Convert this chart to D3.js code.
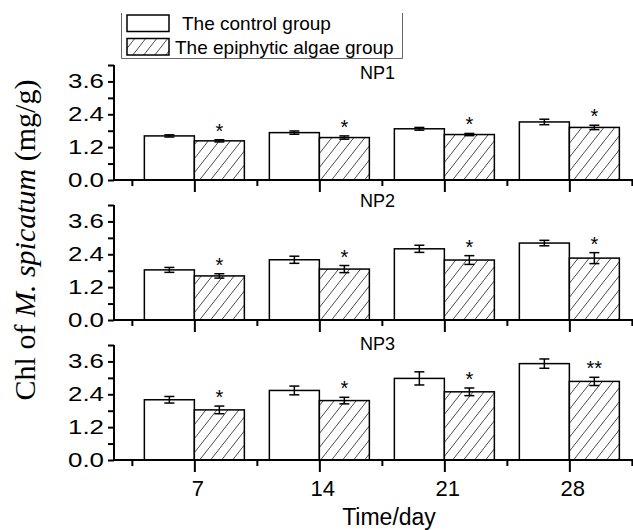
<!DOCTYPE html>
<html><head><meta charset="utf-8">
<script src="https://cdn.jsdelivr.net/npm/d3@7"></script>
<style>html,body{margin:0;padding:0;background:#fff;overflow:hidden}</style>
</head><body>
<script>
const days = [7, 14, 21, 28];
const panelNames = ["NP1", "NP2", "NP3"];
const controlNP1 = [1.61, 1.73, 1.87, 2.12];
const epiNP1 = [1.43, 1.55, 1.66, 1.92];
const controlErrNP1 = [0.04, 0.06, 0.05, 0.10];
const epiErrNP1 = [0.04, 0.06, 0.04, 0.08];
const controlNP2 = [1.83, 2.20, 2.60, 2.81];
const epiNP2 = [1.61, 1.86, 2.19, 2.26];
const controlErrNP2 = [0.09, 0.13, 0.13, 0.10];
const epiErrNP2 = [0.08, 0.13, 0.16, 0.20];
const controlNP3 = [2.20, 2.54, 2.98, 3.52];
const epiNP3 = [1.83, 2.17, 2.49, 2.87];
const controlErrNP3 = [0.12, 0.16, 0.24, 0.17];
const epiErrNP3 = [0.14, 0.12, 0.14, 0.15];
const sigNP1 = ["*", "*", "*", "*"];
const sigNP2 = ["*", "*", "*", "*"];
const sigNP3 = ["*", "*", "*", "**"];
const yTicks = [0.0, 1.2, 2.4, 3.6];
const legendLabels = ["The control group", "The epiphytic algae group"];

const panels = [
  {name: panelNames[0], c: controlNP1, e: epiNP1, ce: controlErrNP1, ee: epiErrNP1, sig: sigNP1},
  {name: panelNames[1], c: controlNP2, e: epiNP2, ce: controlErrNP2, ee: epiErrNP2, sig: sigNP2},
  {name: panelNames[2], c: controlNP3, e: epiNP3, ce: controlErrNP3, ee: epiErrNP3, sig: sigNP3}
];

const W = 633, H = 530;
const svg = d3.select("body").append("svg").attr("width", W).attr("height", H)
  .style("font-family", "Arial, 'Liberation Sans', sans-serif");

const defs = svg.append("defs");
const pat = defs.append("pattern").attr("id", "hatch").attr("patternUnits", "userSpaceOnUse")
  .attr("width", 11).attr("height", 14);
pat.append("rect").attr("width", 11).attr("height", 14).attr("fill", "#fff");
pat.append("line").attr("x1", 0).attr("y1", 14).attr("x2", 11).attr("y2", 0)
  .attr("stroke", "#333").attr("stroke-width", 0.9);

const x = d3.scaleLinear().domain([2.5, 32]).range([114, 114 + 29.5 * (125 / 7)]);
const barW = 50;
const zeroYs = [180, 320, 460];
const nameBaselines = [79, 207, 350];

panels.forEach((p, i) => {
  const y = d3.scaleLinear().domain([0, 4.2]).range([zeroYs[i], zeroYs[i] - 115]);
  const g = svg.append("g");

  days.forEach((d, j) => {
    const cx = x(d);
    g.append("rect").attr("x", cx - barW).attr("y", y(p.c[j])).attr("width", barW)
      .attr("height", y(0) - y(p.c[j])).attr("fill", "#fff").attr("stroke", "#000").attr("stroke-width", 1.5);
    g.append("rect").attr("x", cx).attr("y", y(p.e[j])).attr("width", barW)
      .attr("height", y(0) - y(p.e[j])).attr("fill", "url(#hatch)").attr("stroke", "#000").attr("stroke-width", 1.5);
    [[cx - barW / 2, p.c[j], p.ce[j]], [cx + barW / 2, p.e[j], p.ee[j]]].forEach(([ex, v, er]) => {
      const eg = g.append("g").attr("stroke", "#000").attr("stroke-width", 1.5);
      eg.append("line").attr("x1", ex).attr("x2", ex).attr("y1", y(v - er)).attr("y2", y(v + er));
      eg.append("line").attr("x1", ex - 5).attr("x2", ex + 5).attr("y1", y(v - er)).attr("y2", y(v - er));
      eg.append("line").attr("x1", ex - 5).attr("x2", ex + 5).attr("y1", y(v + er)).attr("y2", y(v + er));
    });
    g.append("text").attr("x", cx + barW / 2).attr("y", y(p.e[j] + p.ee[j]) - 2)
      .attr("text-anchor", "middle").attr("font-size", 20).text(p.sig[j]);
  });

  const yAxis = d3.axisLeft(y).tickValues(d3.range(0, 4.21, 0.6)).tickSize(6)
    .tickFormat(v => yTicks.some(t => Math.abs(t - v) < 1e-6) ? d3.format(".1f")(v) : "");
  const ya = g.append("g").attr("transform", `translate(${x(2.5)},0)`).call(yAxis);
  ya.select(".domain").remove();
  ya.selectAll(".tick line").attr("stroke-width", 2);
  ya.selectAll("text").attr("font-size", 20).attr("font-family", "Arial, 'Liberation Sans', sans-serif")
    .attr("fill", "#000").attr("x", -10)
    .each(function () { if (this.textContent) d3.select(this).attr("textLength", 36).attr("lengthAdjust", "spacingAndGlyphs"); });
  g.append("line").attr("x1", x(2.5)).attr("x2", x(2.5)).attr("y1", y(0) + 1).attr("y2", y(4.2))
    .attr("stroke", "#000").attr("stroke-width", 2);

  const xa = g.append("g").attr("transform", `translate(0,${y(0)})`);
  xa.append("line").attr("x1", x(2.5)).attr("x2", W).attr("y1", 0).attr("y2", 0)
    .attr("stroke", "#000").attr("stroke-width", 2);
  const majorAxis = d3.axisBottom(x).tickValues(days).tickSize(12).tickSizeOuter(0)
    .tickFormat(i === 2 ? d3.format("d") : () => "");
  const ma = xa.append("g").call(majorAxis);
  ma.select(".domain").remove();
  ma.selectAll(".tick line").attr("stroke-width", 2);
  ma.selectAll("text").attr("font-size", 22).attr("font-family", "Arial, 'Liberation Sans', sans-serif")
    .attr("fill", "#000").attr("dx", 3).attr("y", 20);
  const minorAxis = d3.axisBottom(x).tickValues([3.5, 10.5, 17.5, 24.5, 31.5]).tickSize(6).tickFormat(() => "");
  const mi = xa.append("g").call(minorAxis);
  mi.select(".domain").remove();
  mi.selectAll(".tick line").attr("stroke-width", 2);

  svg.append("text").attr("x", 377.5).attr("y", nameBaselines[i]).attr("text-anchor", "middle")
    .attr("font-size", 18).text(p.name);
});

svg.append("text").attr("x", 389).attr("y", 525).attr("text-anchor", "middle")
  .attr("font-size", 23).text("Time/day");

const yt = svg.append("text").attr("transform", "translate(35,240) rotate(-90)")
  .attr("text-anchor", "middle").attr("font-family", "'Liberation Serif', 'Times New Roman', serif")
  .attr("font-size", 30);
yt.append("tspan").text("Chl of ");
yt.append("tspan").attr("font-style", "italic").text("M. spicatum");
yt.append("tspan").text(" (mg/g)");

const lg = svg.append("g");
lg.append("path").attr("d", "M121.5,13 V58.5 H402.5 V13").attr("fill", "none")
  .attr("stroke", "#666").attr("stroke-width", 1);
const sw = [{y: 15, fill: "#fff"}, {y: 38.5, fill: "url(#hatch)"}];
sw.forEach((s, k) => {
  lg.append("rect").attr("x", 127).attr("y", s.y).attr("width", 42).attr("height", 16.5)
    .attr("fill", s.fill).attr("stroke", "#000").attr("stroke-width", 1.5);
  lg.append("text").attr("x", k === 0 ? 182 : 175).attr("y", k === 0 ? 29.5 : 53.5)
    .attr("font-size", 19).text(legendLabels[k]);
});
</script>
</body></html>
